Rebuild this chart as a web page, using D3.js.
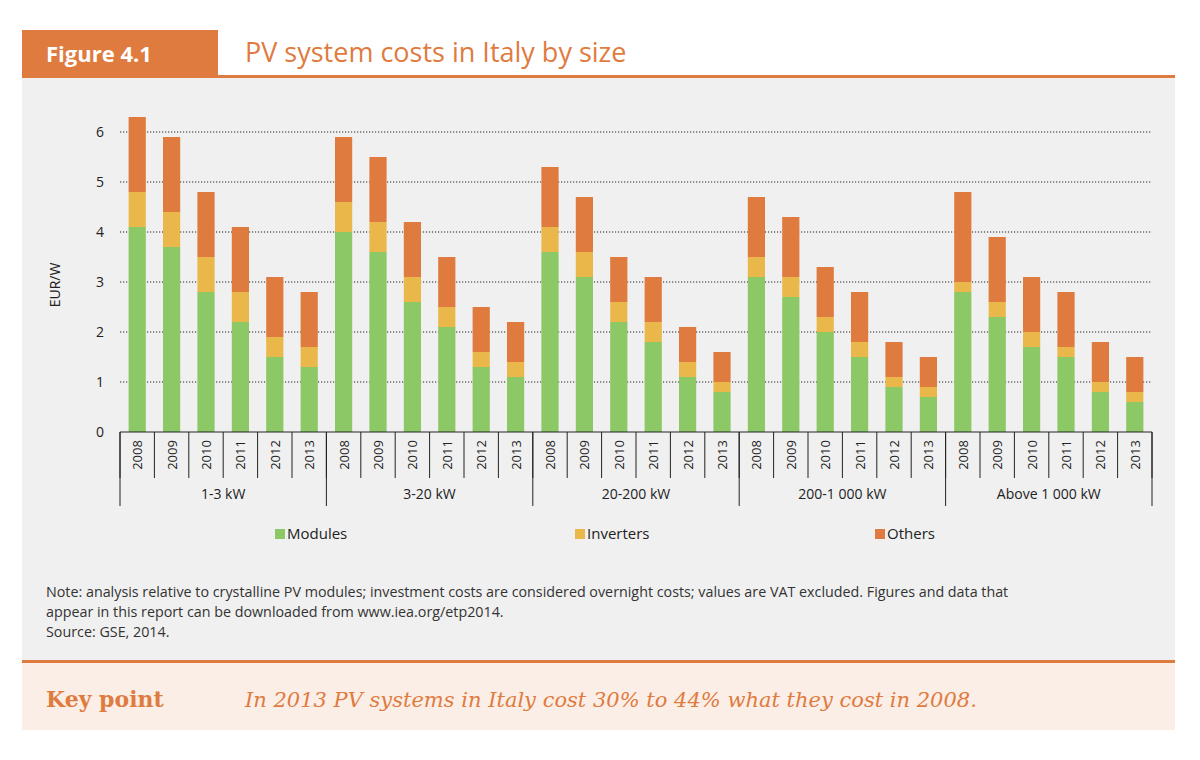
<!DOCTYPE html>
<html><head><meta charset="utf-8">
<script src="https://cdn.jsdelivr.net/npm/d3@7"></script>
<style>body{margin:0;background:#fff;font-family:"Open Sans",sans-serif}</style>
</head><body><svg id="c" width="1200" height="760"></svg>
<script>
const groups = ["1-3 kW","3-20 kW","20-200 kW","200-1 000 kW","Above 1 000 kW"];
const years = ["2008","2009","2010","2011","2012","2013"];
const modules = [4.1,3.7,2.8,2.2,1.5,1.3, 4.0,3.6,2.6,2.1,1.3,1.1, 3.6,3.1,2.2,1.8,1.1,0.8, 3.1,2.7,2.0,1.5,0.9,0.7, 2.8,2.3,1.7,1.5,0.8,0.6];
const inverters = [0.7,0.7,0.7,0.6,0.4,0.4, 0.6,0.6,0.5,0.4,0.3,0.3, 0.5,0.5,0.4,0.4,0.3,0.2, 0.4,0.4,0.3,0.3,0.2,0.2, 0.2,0.3,0.3,0.2,0.2,0.2];
const others = [1.5,1.5,1.3,1.3,1.2,1.1, 1.3,1.3,1.1,1.0,0.9,0.8, 1.2,1.1,0.9,0.9,0.7,0.6, 1.2,1.2,1.0,1.0,0.7,0.6, 1.8,1.3,1.1,1.1,0.8,0.7];
const seriesNames = ["Modules","Inverters","Others"];
const colors = ["#8cc866","#eab84a","#e07b3f"];
const yTicks = [0,1,2,3,4,5,6];

const svg = d3.select("#c");
const orange = "#e07b3f";
// header
svg.append("rect").attr("x",22).attr("y",30).attr("width",196).attr("height",47).attr("fill",orange);
svg.append("text").attr("x",46).attr("y",62).attr("fill","#fff").attr("font-size",22).attr("font-weight","bold").text("Figure 4.1");
svg.append("text").attr("x",245).attr("y",62).attr("fill",orange).attr("font-size",27).text("PV system costs in Italy by size");
svg.append("rect").attr("x",22).attr("y",75).attr("width",1153).attr("height",3).attr("fill",orange);
svg.append("rect").attr("x",22).attr("y",78).attr("width",1153).attr("height",582).attr("fill","#f0f0f0");
svg.append("rect").attr("x",22).attr("y",660).attr("width",1153).attr("height",3).attr("fill",orange);
svg.append("rect").attr("x",22).attr("y",663).attr("width",1153).attr("height",67).attr("fill","#fbeee6");
svg.append("text").attr("x",46).attr("y",707).attr("fill",orange).attr("font-size",22).attr("font-weight","bold").attr("font-family","DejaVu Serif").text("Key point");
svg.append("text").attr("x",245).attr("y",707).attr("fill",orange).attr("font-size",21).attr("font-style","italic").attr("font-family","DejaVu Serif").text("In 2013 PV systems in Italy cost 30% to 44% what they cost in 2008.");

const x0=120,x1=1152,yb=432,yt=132;
const labels=[]; groups.forEach(g=>years.forEach(y=>labels.push(g+"|"+y)));
const x=d3.scaleBand().domain(labels).range([x0,x1]).paddingInner(0.5).paddingOuter(0.25);
const y=d3.scaleLinear().domain([0,6]).range([yb,yt]);
const g=svg.append("g");
g.selectAll(".grid").data(yTicks.slice(1)).join("line").attr("x1",x0).attr("x2",x1)
 .attr("y1",d=>y(d)).attr("y2",d=>y(d)).attr("stroke","#222").attr("stroke-width",1.2).attr("stroke-dasharray","1.2,1.8");
g.selectAll(".yt").data(yTicks).join("text").attr("x",104).attr("y",d=>y(d)+5).attr("text-anchor","end").attr("font-size",14).attr("fill","#222").text(d=>d);
svg.append("text").attr("transform","translate(60,285) rotate(-90)").attr("text-anchor","middle").attr("font-size",14).attr("fill","#222").text("EUR/W");

const data=labels.map((l,i)=>({l,v:[modules[i],inverters[i],others[i]]}));
const stack=d3.stack().keys([0,1,2]).value((d,k)=>d.v[k])(data);
stack.forEach((s,k)=>{
 g.selectAll(".b"+k).data(s).join("rect").attr("x",(d,i)=>x(labels[i])).attr("width",x.bandwidth())
  .attr("y",d=>y(d[1])).attr("height",d=>y(d[0])-y(d[1])).attr("fill",colors[k]);
});
// axis
g.append("line").attr("x1",x0).attr("x2",x1).attr("y1",yb).attr("y2",yb).attr("stroke","#222");
const step=(x1-x0)/30;
for(let i=0;i<=5;i++){const xx=x0+i*6*step;g.append("line").attr("x1",xx).attr("x2",xx).attr("y1",yb).attr("y2",506).attr("stroke","#222");}
for(let i=0;i<=30;i++){const xx=x0+i*step;g.append("line").attr("x1",xx).attr("x2",xx).attr("y1",yb).attr("y2",478).attr("stroke","#222");}
labels.forEach(l=>{const cx=x(l)+x.bandwidth()/2;
 g.append("text").attr("transform",`translate(${cx+5},455) rotate(-90)`).attr("text-anchor","middle").attr("font-size",13).attr("fill","#222").text(l.split("|")[1]);});
groups.forEach((gr,i)=>g.append("text").attr("x",x0+(i*6+3)*step).attr("y",499).attr("text-anchor","middle").attr("font-size",14).attr("fill","#222").text(gr));
// legend
const lx=[275,575,875];
seriesNames.forEach((n,k)=>{svg.append("rect").attr("x",lx[k]).attr("y",529).attr("width",10).attr("height",10).attr("fill",colors[k]);
 svg.append("text").attr("x",lx[k]+12).attr("y",539).attr("font-size",15).attr("fill","#222").text(n);});
// notes
const notes=["Note: analysis relative to crystalline PV modules; investment costs are considered overnight costs; values are VAT excluded. Figures and data that","appear in this report can be downloaded from www.iea.org/etp2014.","Source: GSE, 2014."];
notes.forEach((t,i)=>svg.append("text").attr("x",46).attr("y",597+i*20).attr("font-size",14.3).attr("fill","#333").text(t));
</script></body></html>
